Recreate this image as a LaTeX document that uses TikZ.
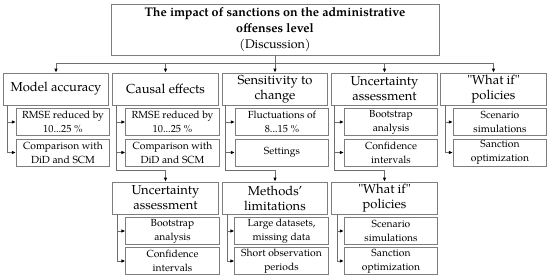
\documentclass[tikz,border=0pt]{standalone}
\usepackage{fontspec}
\setmainfont{TeX Gyre Pagella}
\newfontfamily\plainq{TeX Gyre Pagella}
\newcommand\sq{{\plainq"}}
\usetikzlibrary{arrows.meta,calc}
\definecolor{edgegray}{RGB}{125,125,125}
\definecolor{linegray}{RGB}{110,110,110}
\tikzset{
  basebox/.style={draw=edgegray, line width=0.8pt, align=center, inner sep=0pt, text=black},
  titlebox/.style={basebox, minimum width=328pt, minimum height=51pt, font=\fontsize{12.5}{16}\selectfont},
  mainbox/.style={basebox, minimum width=105.5pt, minimum height=32pt, font=\fontsize{13}{15}\selectfont},
  subbox/.style={basebox, minimum width=93.5pt, minimum height=27pt, font=\fontsize{10.3}{14}\selectfont},
  conn/.style={draw=linegray, line width=0.8pt},
  tip/.style={conn, -{Latex[length=4pt,width=3.6pt,color=black]}}
}
\begin{document}
\begin{tikzpicture}[x=1pt,y=-1pt]
\useasboundingbox (0,0) rectangle (550,279);
% title
\node[titlebox] (top) at (275,29.5) {\textbf{The impact of sanctions on the administrative}\\\textbf{offenses level}\\(Discussion)};
% row 1
\node[mainbox] (b1) at (56,89) {Model accuracy};
\node[mainbox] (b2) at (165.5,89) {Causal effects};
\node[mainbox] (b3) at (275,89) {Sensitivity to\\change};
\node[mainbox] (b4) at (384.5,89) {Uncertainty\\assessment};
\node[mainbox] (b5) at (493.5,89) {\sq What if\sq\\policies};
% row 1 children
\node[subbox] (c11) at (63,122) {RMSE reduced by\\10...25 \%};
\node[subbox] (c12) at (63,152.5) {Comparison with\\DiD and SCM};
\node[subbox] (c21) at (172.5,122) {RMSE reduced by\\10...25 \%};
\node[subbox] (c22) at (172.5,152.5) {Comparison with\\DiD and SCM};
\node[subbox] (c31) at (282,122) {Fluctuations of\\8...15 \%};
\node[subbox] (c32) at (282,152.5) {Settings};
\node[subbox] (c41) at (391,122) {Bootstrap\\analysis};
\node[subbox] (c42) at (391,152.5) {Confidence\\intervals};
\node[subbox] (c51) at (500,122) {Scenario\\simulations};
\node[subbox] (c52) at (500,152.5) {Sanction\\optimization};
% row 2
\node[mainbox] (r2) at (165.5,198) {Uncertainty\\assessment};
\node[mainbox] (r3) at (275,198) {Methods'\\limitations};
\node[mainbox] (r4) at (384.5,198) {\sq What if\sq\\policies};
% row 2 children
\node[subbox] (d21) at (172.5,231) {Bootstrap\\analysis};
\node[subbox] (d22) at (172.5,261) {Confidence\\intervals};
\node[subbox] (d31) at (281.5,231) {Large datasets,\\missing data};
\node[subbox] (d32) at (281.5,261) {Short observation\\periods};
\node[subbox] (d41) at (391,231) {Scenario\\simulations};
\node[subbox] (d42) at (391,261) {Sanction\\optimization};
% bus
\coordinate (bus) at (275,63);
\draw[conn] (top.south) -- (bus);
\draw[tip] (bus) -| (b1.north);
\draw[tip] (bus) -| (b2.north);
\draw[tip] (bus) -- (b3.north);
\draw[tip] (bus) -| (b4.north);
\draw[tip] (bus) -| (b5.north);
% brackets row 1
\coordinate (s1) at (7,105);
\coordinate (s2) at (116,105);
\coordinate (s3) at (225,105);
\coordinate (s4) at (334.5,105);
\coordinate (s5) at (445.5,105);
\draw[tip] (s1) |- (c11.west);
\draw[tip] (s1) |- (c12.west);
\draw[tip] (s2) |- (c21.west);
\draw[tip] (s2) |- (c22.west);
\draw[tip] (s3) |- (c31.west);
\draw[tip] (s3) |- (c32.west);
\draw[tip] (s4) |- (c41.west);
\draw[tip] (s4) |- (c42.west);
\draw[tip] (s5) |- (c51.west);
\draw[tip] (s5) |- (c52.west);
% down links to row 2
\coordinate (j2) at (165.5,170.5);
\coordinate (j3) at (275,170.5);
\coordinate (j4) at (384.5,170.5);
\draw[tip] (s2) |- (j2) -- (r2.north);
\draw[tip] (s3) |- (j3) -- (r3.north);
\draw[tip] (s4) |- (j4) -- (r4.north);
% brackets row 2
\coordinate (t2) at (117,214);
\coordinate (t3) at (227,214);
\coordinate (t4) at (337,214);
\draw[tip] (t2) |- (d21.west);
\draw[tip] (t2) |- (d22.west);
\draw[tip] (t3) |- (d31.west);
\draw[tip] (t3) |- (d32.west);
\draw[tip] (t4) |- (d41.west);
\draw[tip] (t4) |- (d42.west);
\end{tikzpicture}
\end{document}
